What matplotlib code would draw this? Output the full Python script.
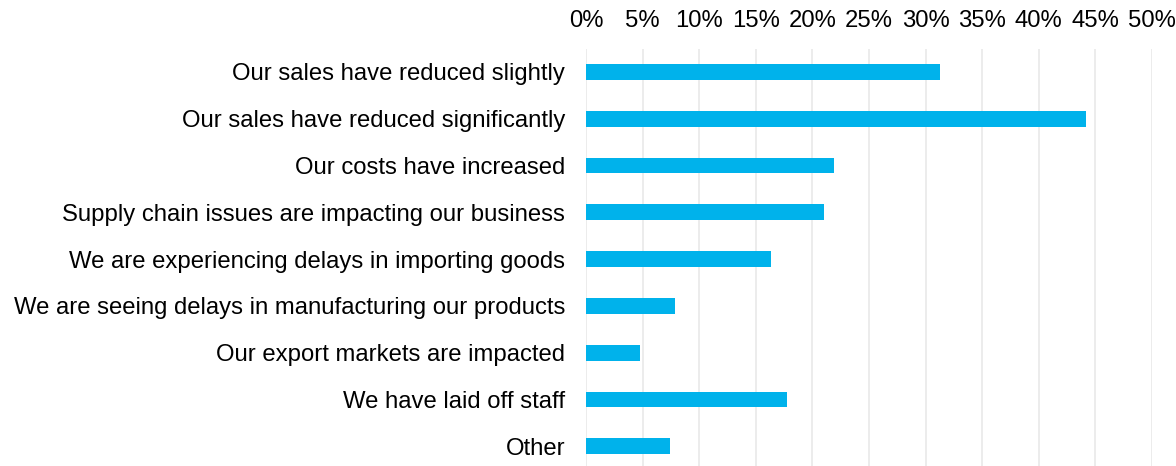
import matplotlib.pyplot as plt
from matplotlib.ticker import FuncFormatter

plt.rcParams['font.family'] = ['Liberation Sans', 'DejaVu Sans']

categories = [
    'Our sales have reduced slightly',
    'Our sales have reduced significantly',
    'Our costs have increased',
    'Supply chain issues are impacting our business',
    'We are experiencing delays in importing goods',
    'We are seeing delays in manufacturing our products',
    'Our export markets are impacted',
    'We have laid off staff',
    'Other',
]
values = [31.3, 44.2, 21.9, 21.0, 16.3, 7.9, 4.8, 17.8, 7.4]
ticks = list(range(0, 55, 5))

fig = plt.figure(figsize=(11.76, 4.66), dpi=100)
ax = fig.add_axes([586 / 1176, 0, (1152 - 586) / 1176, 1 - 49 / 466])

pos = list(range(len(categories)))
ax.barh(pos, values, height=0.34, color='#00B2EB', zorder=2)

ax.set_xlim(0, 50)
ax.set_ylim(8.42, -0.49)
ax.set_xticks(ticks)
ax.xaxis.set_major_formatter(FuncFormatter(lambda v, p: f'{v:.0f}%'))
ax.xaxis.tick_top()
ax.set_yticks(pos)
ax.set_yticklabels(categories)
ax.tick_params(axis='x', length=0, pad=12, labelsize=17.2, colors='black')
ax.tick_params(axis='y', length=0, pad=15, labelsize=17.2, colors='black')
ax.grid(axis='x', color='#EBEBEB', linewidth=1.3, zorder=0)
for s in ax.spines.values():
    s.set_visible(False)

fig.savefig('out.png', dpi=100)
